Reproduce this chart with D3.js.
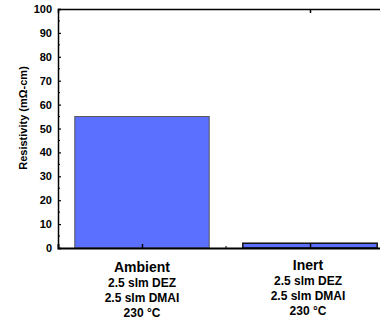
<!DOCTYPE html>
<html>
<head>
<meta charset="utf-8">
<script src="https://cdn.jsdelivr.net/npm/d3@7"></script>
<style>
  body { margin: 0; background: #fff; }
  text { font-family: Arial, "Liberation Sans", sans-serif; font-weight: bold; fill: #000; }
</style>
</head>
<body>
<svg width="380" height="320"></svg>
<script>
// data
var categories = ["Ambient", "Inert"];
var resistivity = [55, 2];
var conditions = [
    ["2.5 slm DEZ", "2.5 slm DMAI", "230 °C"],
    ["2.5 slm DEZ", "2.5 slm DMAI", "230 °C"]
];
var yTicks = [0, 10, 20, 30, 40, 50, 60, 70, 80, 90, 100];

var svg = d3.select("svg"),
    mLeft = 58, mTop = 9, mBottom = 248;

// x runs from 0.5 to 2.5 -> right edge falls off the canvas like the original
var x = d3.scaleLinear().domain([0.5, 2.5]).range([mLeft, mLeft + 336]);
var y = d3.scaleLinear().domain([0, 100]).range([mBottom, mTop]);
var barW = 0.8;

var g = svg.append("g");

// bars
g.selectAll(".bar")
    .data(resistivity)
    .enter().append("rect")
    .attr("class", "bar")
    .attr("x", function(d, i) { return x(i + 1 - barW / 2); })
    .attr("y", function(d) { return y(d); })
    .attr("width", function() { return x(1 + barW / 2) - x(1 - barW / 2); })
    .attr("height", function(d) { return y(0) - y(d); })
    .attr("fill", "#5c70ff")
    .attr("stroke", function(d, i) { return i == 0 ? "#555" : "#111"; })
    .attr("stroke-width", function(d, i) { return i == 0 ? 1 : 1.5; });

// left axis, ticks inside
var yAxis = d3.axisLeft(y).tickValues(yTicks).tickSize(-3).tickPadding(6);
var ya = svg.append("g").attr("transform", "translate(" + mLeft + ",0)").call(yAxis);
ya.select(".domain").attr("stroke-width", 1.5);
ya.selectAll(".tick line").attr("stroke-width", 1.2);
ya.selectAll("text").style("font-size", "11px").style("font-weight", "bold")
    .style("font-family", "Arial, 'Liberation Sans', sans-serif");

// minor ticks
var minor = d3.range(5, 100, 10);
svg.append("g").selectAll("line").data(minor).enter().append("line")
    .attr("x1", mLeft).attr("x2", mLeft + 2)
    .attr("y1", function(d) { return y(d); }).attr("y2", function(d) { return y(d); })
    .attr("stroke", "#000").attr("stroke-width", 1);

// bottom axis
var xAxis = d3.axisBottom(x).tickValues([1, 2]).tickSize(-4).tickFormat("");
var xa = svg.append("g").attr("transform", "translate(0," + mBottom + ")").call(xAxis);
xa.select(".domain").attr("stroke-width", 2);
xa.selectAll(".tick line").attr("stroke-width", 1.5);
svg.append("line")
    .attr("x1", x(1.5)).attr("x2", x(1.5))
    .attr("y1", mBottom).attr("y2", mBottom - 2)
    .attr("stroke", "#000").attr("stroke-width", 1);

// top frame
var xt = d3.axisTop(x).tickValues([2]).tickSize(-4).tickFormat("");
var ta = svg.append("g").attr("transform", "translate(0," + mTop + ")").call(xt);
ta.select(".domain").attr("stroke-width", 1.5);
ta.selectAll(".tick line").attr("stroke-width", 1.5);

// category labels
var labels = svg.append("g").selectAll("g")
    .data(categories)
    .enter().append("g")
    .attr("transform", function(d, i) { return "translate(" + (x(i + 1) - i * 2) + "," + (i == 0 ? 272 : 270) + ")"; });

labels.append("text")
    .attr("text-anchor", "middle")
    .style("font-size", "14px")
    .text(function(d) { return d; });

labels.each(function(d, i) {
    d3.select(this).selectAll(".cond")
        .data(conditions[i])
        .enter().append("text")
        .attr("class", "cond")
        .attr("text-anchor", "middle")
        .attr("y", function(c, j) { return 15 + j * 15; })
        .style("font-size", "12px")
        .text(function(c) { return c; });
});

// y title
svg.append("text")
    .attr("transform", "translate(27,118) rotate(-90)")
    .attr("text-anchor", "middle")
    .style("font-size", "11px")
    .text("Resistivity (mΩ-cm)");
</script>
</body>
</html>
